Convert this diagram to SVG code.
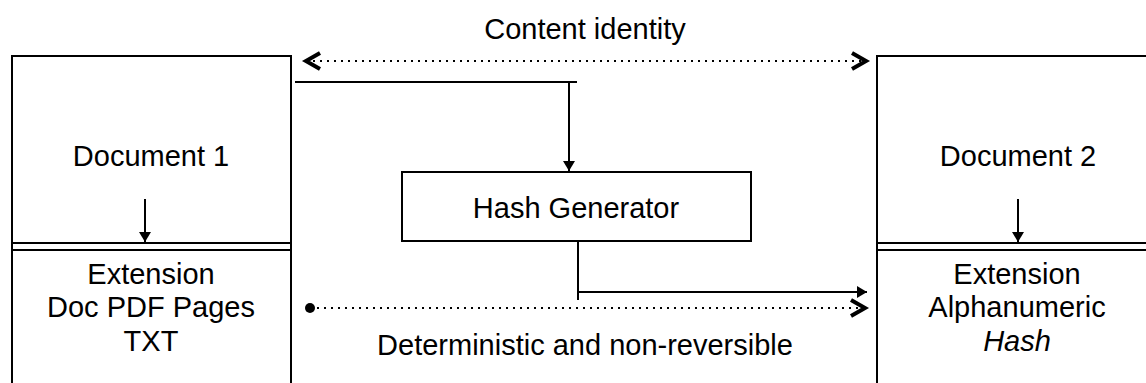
<svg xmlns="http://www.w3.org/2000/svg" width="1146" height="383" viewBox="0 0 1146 383">
<style>
.box{fill:#fff;stroke:#000;stroke-width:2}
.ln{fill:none;stroke:#000;stroke-width:2}
.dot{fill:none;stroke:#000;stroke-width:2;stroke-dasharray:2 5}
text{font-family:"Liberation Sans",Arial,Helvetica,sans-serif;font-size:29px;fill:#000;text-anchor:middle}
</style>
<defs>
<marker id="tri" markerUnits="userSpaceOnUse" markerWidth="14" markerHeight="14" refX="10" refY="6" orient="auto">
<path d="M0,0 L10,6 L0,12 Z" fill="#000"/>
</marker>
<marker id="chev" markerUnits="userSpaceOnUse" markerWidth="22" markerHeight="24" refX="17" refY="11" orient="auto-start-reverse">
<path d="M3,3 L17,11 L3,19" fill="none" stroke="#000" stroke-width="4"/>
</marker>
<marker id="ball" markerUnits="userSpaceOnUse" markerWidth="12" markerHeight="12" refX="6" refY="6">
<circle cx="6" cy="6" r="5" fill="#000"/>
</marker>
</defs>
<g id="doc1">
<rect class="box" x="12" y="56" width="279" height="340"/>
<line class="ln" x1="12" y1="243" x2="291" y2="243"/>
<line class="ln" x1="12" y1="250" x2="291" y2="250"/>
<text x="151" y="166">Document 1</text>
<line class="ln" x1="145" y1="199" x2="145" y2="242" marker-end="url(#tri)"/>
<text x="151" y="284">Extension</text>
<text x="151" y="317">Doc PDF Pages</text>
<text x="151" y="351">TXT</text>
</g>
<g id="doc2">
<rect class="box" x="877" y="56" width="282" height="340"/>
<line class="ln" x1="877" y1="243" x2="1159" y2="243"/>
<line class="ln" x1="877" y1="250" x2="1159" y2="250"/>
<text x="1018" y="166">Document 2</text>
<line class="ln" x1="1018" y1="199" x2="1018" y2="242" marker-end="url(#tri)"/>
<text x="1017" y="284">Extension</text>
<text x="1017" y="317">Alphanumeric</text>
<text x="1017" y="351" font-style="italic">Hash</text>
</g>
<g id="hashgen">
<rect class="box" x="402" y="172" width="349" height="69"/>
<text x="576" y="218">Hash Generator</text>
</g>
<g id="connectors">
<line class="ln" x1="295" y1="82" x2="577" y2="82"/>
<line class="ln" x1="569" y1="82" x2="569" y2="171" marker-end="url(#tri)"/>
<line class="ln" x1="578" y1="241" x2="578" y2="300"/>
<line class="ln" x1="578" y1="292" x2="867" y2="292" marker-end="url(#tri)"/>
<line class="dot" x1="306" y1="61" x2="866" y2="61" marker-start="url(#chev)" marker-end="url(#chev)"/>
<line class="dot" x1="310" y1="308" x2="865" y2="308" marker-start="url(#ball)" marker-end="url(#chev)"/>
<text x="585" y="39">Content identity</text>
<text x="585" y="355">Deterministic and non-reversible</text>
</g>
</svg>
